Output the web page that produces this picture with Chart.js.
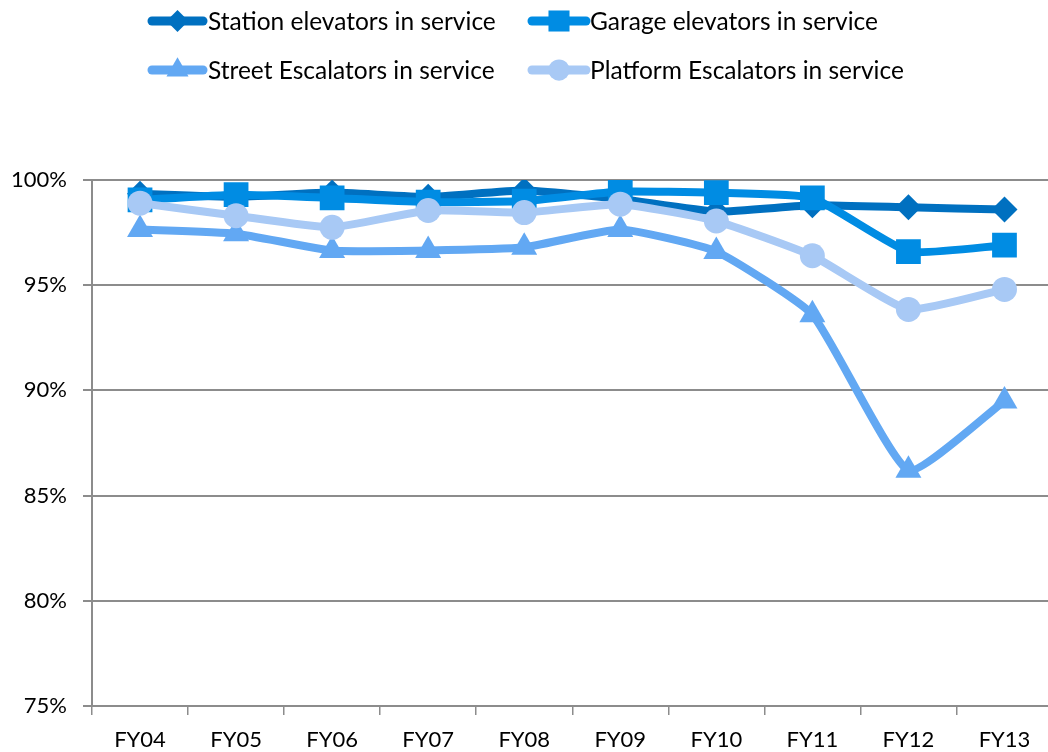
<!DOCTYPE html>
<html>
<head>
<meta charset="utf-8">
<script src="https://cdn.jsdelivr.net/npm/chart.js@4/dist/chart.umd.min.js"></script>
<style>
	html, body { margin: 0; padding: 0; background: #fff; overflow: hidden; }
	canvas { display: block; }
</style>
</head>
<body>
<canvas id="chartService" width="1070" height="752"></canvas>
<script>
	/*Datos del grafico*/
	var categories = ['FY04', 'FY05', 'FY06', 'FY07', 'FY08', 'FY09', 'FY10', 'FY11', 'FY12', 'FY13'];
	var stationElevators = [99.35, 99.2, 99.4, 99.2, 99.5, 99.1, 98.5, 98.8, 98.7, 98.6];
	var garageElevators = [99.05, 99.3, 99.15, 98.95, 99.0, 99.45, 99.4, 99.15, 96.6, 96.9];
	var streetEscalators = [97.65, 97.45, 96.65, 96.65, 96.8, 97.65, 96.6, 93.6, 86.2, 89.5];
	var platformEscalators = [98.9, 98.3, 97.75, 98.55, 98.45, 98.85, 98.05, 96.4, 93.85, 94.8];
	var seriesNames = ['Station elevators in service', 'Garage elevators in service',
		'Street Escalators in service', 'Platform Escalators in service'];
	var yTicks = [75, 80, 85, 90, 95, 100];

	var fontFamily = 'Lato, "Open Sans", sans-serif', ctx = document.getElementById('chartService'),
		serviceChart;

	/*Construye una serie*/
	function buildSerie(name, data, color, pointStyle, radius, order){
		return {
			label: name,
			data: data,
			borderColor: color,
			backgroundColor: color,
			borderWidth: 8,
			pointStyle: pointStyle,
			pointRadius: radius,
			pointHoverRadius: radius,
			pointBorderWidth: 0,
			tension: 0.15,
			order: order
		};
	}

	/*Leyenda dibujada con linea y marcador*/
	var legendPlugin = {
		id: 'lineLegend',
		afterDraw: function(chart){
			var c = chart.ctx, iItem, item, ds,
				places = [{x0: 152, x1: 203, tx: 208, y: 21}, {x0: 532, x1: 586, tx: 590, y: 21},
					{x0: 152, x1: 203, tx: 208, y: 70}, {x0: 532, x1: 586, tx: 590, y: 70}];
			for(iItem = 0; iItem < places.length; iItem++){
				item = places[iItem];
				ds = chart.data.datasets[iItem];
				c.save();
				c.strokeStyle = ds.borderColor;
				c.lineWidth = 9;
				c.lineCap = 'round';
				c.beginPath();
				c.moveTo(item.x0, item.y);
				c.lineTo(item.x1, item.y);
				c.stroke();
				c.fillStyle = ds.backgroundColor;
				Chart.helpers.drawPoint(c, {pointStyle: ds.pointStyle, radius: ds.pointRadius * 0.85,
					rotation: 0, borderWidth: 0}, (item.x0 + item.x1) / 2, item.y);
				c.fillStyle = '#000';
				c.font = '24.5px ' + fontFamily;
				c.textBaseline = 'middle';
				c.textAlign = 'left';
				c.fillText(ds.label, item.tx, item.y + 1);
				c.restore();
			}
		}
	};

	serviceChart = new Chart(ctx, {
		type: 'line',
		data: {
			labels: categories,
			datasets: [
				buildSerie(seriesNames[0], stationElevators, '#0070C0', 'rectRot', 13, 4),
				buildSerie(seriesNames[1], garageElevators, '#008CE3', 'rect', 17.5, 3),
				buildSerie(seriesNames[2], streetEscalators, '#62A8F3', 'triangle', 15, 2),
				buildSerie(seriesNames[3], platformEscalators, '#A8C9F5', 'circle', 12.5, 1)
			]
		},
		options: {
			responsive: false,
			animation: false,
			layout: {padding: {top: 180, right: 2, left: 0, bottom: 0}},
			plugins: {legend: {display: false}, tooltip: {enabled: false}},
			scales: {
				x: {
					offset: true,
					grid: {display: true, offset: true, drawOnChartArea: false, drawTicks: true,
						tickLength: 9, color: '#8c8c8c', lineWidth: 1.5},
					border: {color: '#8c8c8c', width: 2},
					ticks: {color: '#000', font: {family: fontFamily, size: 22}, padding: 12,
						maxRotation: 0, autoSkip: false},
					afterFit: function(scale){ scale.height = 46; }
				},
				y: {
					min: yTicks[0],
					max: yTicks[yTicks.length - 1],
					afterBuildTicks: function(scale){
						scale.ticks = yTicks.map(function(v){ return {value: v}; });
					},
					grid: {color: '#8c8c8c', lineWidth: 2, tickLength: 9},
					border: {color: '#8c8c8c', width: 2},
					ticks: {color: '#000', font: {family: fontFamily, size: 22}, padding: 16,
						callback: function(v){ return v + '%'; }},
					afterFit: function(scale){ scale.width = 92; }
				}
			}
		},
		plugins: [legendPlugin]
	});
</script>
</body>
</html>
